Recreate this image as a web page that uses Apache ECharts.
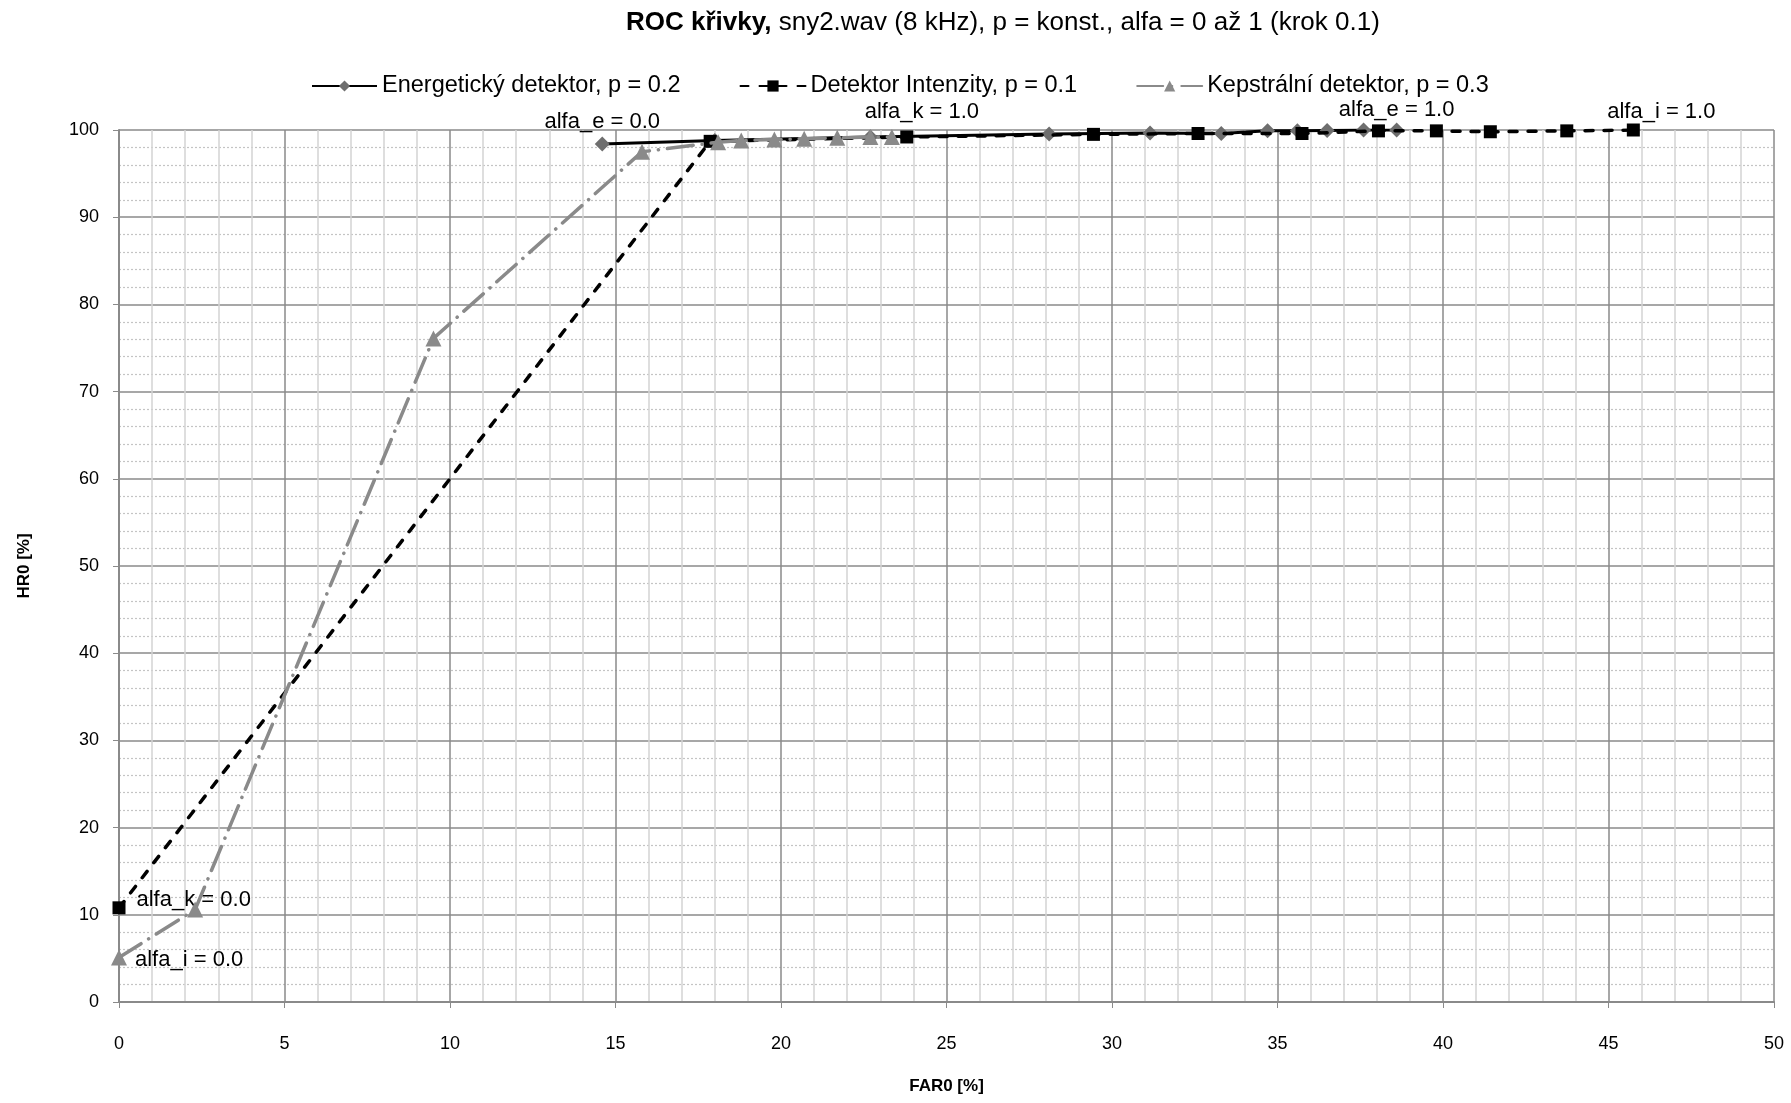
<!DOCTYPE html>
<html>
<head>
<meta charset="utf-8">
<script src="https://cdn.jsdelivr.net/npm/echarts@6/dist/echarts.min.js"></script>
<style>
html,body{margin:0;padding:0;background:#fff;}
#chart{width:1791px;height:1103px;}
</style>
</head>
<body>
<div id="chart"></div>
<script>
// ---- data ----
const energX = [14.6, 18.0, 22.7, 28.1, 31.15, 33.3, 34.7, 35.6, 36.5, 37.6, 38.6];
const energY = [98.4, 98.8, 99.2, 99.55, 99.65, 99.6, 99.9, 99.9, 99.95, 100, 100];
const intenX = [0, 17.86, 23.8, 29.44, 32.6, 35.74, 38.05, 39.8, 41.43, 43.74, 45.75];
const intenY = [10.8, 98.7, 99.2, 99.5, 99.6, 99.6, 99.9, 99.9, 99.8, 99.9, 100];
const kepX = [0, 2.3, 9.5, 15.8, 18.1, 18.8, 19.8, 20.7, 21.7, 22.7, 23.35];
const kepY = [5.1, 10.6, 76.1, 97.5, 98.6, 98.8, 98.9, 99.0, 99.1, 99.2, 99.2];
const seriesNames = ['Energetický detektor, p = 0.2', 'Detektor Intenzity, p = 0.1', 'Kepstrální detektor, p = 0.3'];
const xTicks = [0, 5, 10, 15, 20, 25, 30, 35, 40, 45, 50];
const yTicks = [0, 10, 20, 30, 40, 50, 60, 70, 80, 90, 100];
const titleBold = 'ROC křivky,';
const titleRest = ' sny2.wav (8 kHz), p = konst., alfa = 0 až 1 (krok 0.1)';
const xName = 'FAR0 [%]';
const yName = 'HR0 [%]';
// point annotations: [series index, point index, text]
const annotations = [
  [0, 0, 'alfa_e = 0.0'],
  [0, 10, 'alfa_e = 1.0'],
  [1, 0, 'alfa_k = 0.0'],
  [1, 10, 'alfa_i = 1.0'],
  [2, 0, 'alfa_i = 0.0'],
  [2, 10, 'alfa_k = 1.0']
];

const FONT = 'Liberation Sans, Arial, sans-serif';
const labelStyles = {
  'alfa_e = 0.0': {position: 'top', distance: 4},
  'alfa_e = 1.0': {position: 'top', distance: 2},
  'alfa_k = 0.0': {position: 'right', distance: 11, offset: [0, -8]},
  'alfa_i = 1.0': {position: 'top', distance: 1, offset: [28, 0]},
  'alfa_i = 0.0': {position: 'right', distance: 8, offset: [0, 2]},
  'alfa_k = 1.0': {position: 'top', distance: 6, offset: [30, 0]}
};

function build(xs, ys, si) {
  return xs.map((x, i) => {
    const item = {value: [x, ys[i]]};
    const a = annotations.find(a => a[0] === si && a[1] === i);
    if (a) {
      item.label = Object.assign({
        show: true, formatter: a[2], color: '#000', fontSize: 22, fontFamily: FONT
      }, labelStyles[a[2]]);
    }
    return item;
  });
}

const chart = echarts.init(document.getElementById('chart'));
chart.setOption({
  animation: false,
  backgroundColor: '#fff',
  title: {
    text: '{b|' + titleBold + '}{n|' + titleRest + '}',
    left: 626,
    top: 10,
    padding: 0,
    textStyle: {
      rich: {
        b: {fontWeight: 'bold', fontSize: 26, fontFamily: FONT, color: '#000'},
        n: {fontWeight: 'normal', fontSize: 26, fontFamily: FONT, color: '#000'}
      }
    }
  },
  legend: {
    left: 306,
    top: 69,
    itemWidth: 65,
    itemHeight: 14,
    itemGap: 59,
    textStyle: {fontSize: 23.5, fontFamily: FONT, color: '#000'},
    data: seriesNames
  },
  grid: {left: 119, right: 17, top: 130, bottom: 101},
  xAxis: {
    type: 'value',
    min: 0, max: 50, interval: 5,
    name: xName,
    nameLocation: 'middle',
    nameGap: 76,
    nameTextStyle: {fontWeight: 'bold', fontSize: 17, fontFamily: FONT, color: '#000'},
    axisLine: {show: true, onZero: false, lineStyle: {color: '#8a8a8a', width: 2}},
    axisTick: {show: true, length: 6, lineStyle: {color: '#8a8a8a'}},
    axisLabel: {fontSize: 18, fontFamily: FONT, color: '#000', margin: 33},
    splitLine: {show: true, lineStyle: {color: '#8a8a8a', width: 1.5}},
    minorTick: {show: false, splitNumber: 5},
    minorSplitLine: {show: true, lineStyle: {color: '#d4d4d4', width: 1.5}}
  },
  yAxis: {
    type: 'value',
    min: 0, max: 100, interval: 10,
    name: yName,
    nameLocation: 'middle',
    nameGap: 86,
    nameRotate: 90,
    nameTextStyle: {fontWeight: 'bold', fontSize: 17, fontFamily: FONT, color: '#000'},
    axisLine: {show: true, onZero: false, lineStyle: {color: '#8a8a8a', width: 2}},
    axisTick: {show: true, length: 6, lineStyle: {color: '#8a8a8a'}},
    axisLabel: {fontSize: 18, fontFamily: FONT, color: '#000', margin: 20},
    splitLine: {show: true, lineStyle: {color: '#8a8a8a', width: 1.5}},
    minorTick: {show: false, splitNumber: 5},
    minorSplitLine: {show: true, lineStyle: {color: '#c4c4c4', width: 1.2, type: [2, 2]}}
  },
  series: [
    {
      name: seriesNames[0], type: 'line',
      data: build(energX, energY, 0),
      symbol: 'diamond', symbolSize: 15,
      itemStyle: {color: '#6e6e6e'},
      lineStyle: {color: '#000', width: 3},
      z: 2
    },
    {
      name: seriesNames[1], type: 'line',
      data: build(intenX, intenY, 1),
      symbol: 'rect', symbolSize: 13,
      itemStyle: {color: '#000'},
      lineStyle: {color: '#000', width: 3.5, type: [8, 11], cap: 'round'},
      z: 3
    },
    {
      name: seriesNames[2], type: 'line',
      data: build(kepX, kepY, 2),
      symbol: 'triangle', symbolSize: 16,
      itemStyle: {color: '#8a8a8a'},
      lineStyle: {color: '#8a8a8a', width: 3.5, type: [26, 9, 0.1, 9], cap: 'round'},
      z: 4
    }
  ]
});
</script>
</body>
</html>
